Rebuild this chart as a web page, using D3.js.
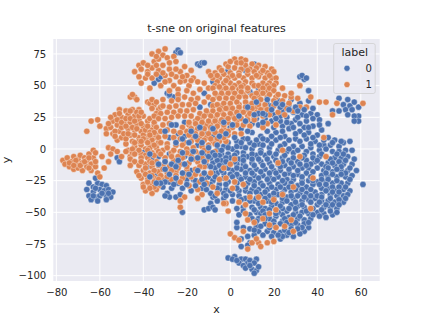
<!DOCTYPE html>
<html><head><meta charset="utf-8">
<script src="https://cdn.jsdelivr.net/npm/d3@7/dist/d3.min.js"></script>
<style>html,body{margin:0;padding:0;background:#fff}svg{display:block}text{font-family:"DejaVu Sans",sans-serif;fill:#262626}</style>
</head><body><div id="c"></div>
<script>
const xTicks=[-80,-60,-40,-20,0,20,40,60];
const yTicks=[-100,-75,-50,-25,0,25,50,75];
const labels=["0","1"];
const colors=["#4c72b0","#dd8452"];
const title="t-sne on original features";
// label 1 points, [x,y]
const pointsOne=[
[-77,-9],[-76,-12],[-75,-7],[-74,-14],[-73,-10],[-72,-6],[-72,-16],[-71,-12],[-70,-8],[-70,-15],[-69,-5],[-68,-11],[-68,-17],[-67,-7],[-66,-14],[-66,-9],[-65,-4],[-64,-12],[-64,-17],[-63,-7],[-62,-14],[-62,-10],[-63,-1],[-62,-3],[-59,-6],[-56,1],[-54,0],[-55,-4],[-52,-2],[-56,-10],[-58,-15],[-61,-19],[-60,-22],[-74,-11],[-71,-9],[-69,-13],[-67,-10],[-65,-15],[-65,-7],[-72,-13],
[-66,14],[-64,22],[-61,23],[-60,18],[-57,16],[-57,12],[-54,22],[-55,17],[-54,12],[-53,27],[-52,7],[-52,19],[-51,31],[-51,14],[-50,25],[-50,9],[-49,21],[-48,30],[-48,4],[-47,16],[-47,27],[-46,11],[-46,21],[-45,31],[-45,6],[-44,26],[-44,15],[-43,20],[-42,23],[-42,9],[-41,3],[-41,14],[-40,18],[-40,26],[-39,0],[-38,10],[-37,5],[-36,15],[-36,-3],[-35,9],[-42,31],[-38,22],[-49,12],[-43,-2],[-47,-1],[-50,-6],[-46,-6],
[-56,20],[-55,25],[-53,14],[-53,10],[-52,23],[-51,28],[-50,17],[-50,21],[-48,24],[-48,18],[-48,8],[-47,12],[-46,30],[-46,24],[-45,17],[-44,22],[-44,11],[-43,29],[-43,16],[-42,26],[-41,20],[-40,11],[-39,15],[-39,7],[-38,18],[-41,29],[-37,13],[-36,7],[-34,11],[-33,5],[-37,1],[-34,1],[-44,2],[-41,-4],[-45,-3],[-39,-5],[-42,6],[-35,19],[-37,24],
[-44,41],[-46,41],[-45,43],[-43,39],[-38,37],[-37,36],[-35,35],[-33,31],[-36,32],[-34,28],[-32,33],[-36,39],[-34,37],
[-30,79],[-36,75],[-33,77],[-31,74],[-29,72],[-26,73],[-25,69],[-35,69],[-33,71],[-42,66],[-40,68],[-44,61],[-41,63],[-38,61],[-36,64],[-33,62],[-31,66],[-28,63],[-41,52],[-39,56],[-42,57],[-37,48],[-36,56],[-32,50],[-30,58],[-28,54],[-26,50],[-25,57],[-23,61],[-21,54],[-20,58],[-19,50],[-17,56],[-15,53],[-24,47],[-23,53],[-27,59],[-21,65],[-18,62],[-25,63],[-34,73],[-38,66],[-34,66],[-31,60],[-38,59],[-28,68],[-30,53],[-34,59],[-22,57],[-18,54],
[2,71],[5,71],[7,70],[-2,67],[3,68],[7,66],[10,67],[13,66],[-5,64],[-1,65],[2,64],[5,63],[9,63],[12,64],[16,65],[19,63],[-10,61],[-7,60],[-3,59],[0,60],[4,60],[8,59],[11,61],[14,60],[17,60],[20,61],[-8,56],[-5,56],[-1,56],[2,56],[6,56],[10,56],[13,57],[16,56],[19,56],[21,56],[-12,52],[-10,48],[-6,53],[-3,52],[0,52],[4,52],[7,53],[10,52],[15,52],[18,52],[21,52],
[0,69],[5,68],[-4,62],[1,58],[4,58],[8,62],[12,58],[15,62],[18,58],[-6,58],[-2,54],[2,50],[6,50],[-9,58],[-4,47],[0,46],[4,47],[8,46],[11,50],[14,46],[17,46],[13,50],[17,50],[20,50],[-7,50],[-6,42],[-2,42],[2,42],[6,43],[10,42],[13,42],[17,41],[21,41],[-8,34],[-4,34],[0,34],[4,35],[8,35],[12,33],[16,33],[-4,29],[0,30],[4,31],[8,31],[12,29],[16,29],[-10,28],[-7,24],[-3,25],[1,26],[4,27],[8,26],[11,25],[-13,24],[-16,22],[-9,20],[-5,21],[-1,21],[3,22],[7,21],[-19,19],[-14,18],[-11,19],[-7,16],[-3,16],[1,17],[-20,14],[-17,14],[-13,14],[-9,15],[-5,12],[-1,11],[-21,5],[-17,9],[-14,10],[-11,9],[-8,6],[-5,6],[-2,6],
[-28,46],[-24,43],[-20,46],[-17,44],[-14,47],[-8,48],[-5,49],[-2,48],[1,48],[5,49],[8,48],[15,48],[18,48],[20,46],
[-31,39],[-27,38],[-24,39],[-21,41],[-18,39],[-15,40],[-10,41],[-7,44],[-4,44],[-1,44],[2,44],[5,45],[12,44],[15,44],[18,43],[22,43],[25,42],[28,41],[31,40],[37,41],[35,33],
[-35,26],[-31,34],[-28,33],[-25,34],[-22,35],[-19,35],[-16,36],[-12,37],[-8,39],[-5,40],[-2,40],[1,40],[4,41],[7,41],[11,40],[14,39],[20,38],[24,38],[27,36],[16,35],[-6,35],[-3,36],[0,36],[3,37],[7,37],[10,36],[13,35],[20,34],[23,33],[26,32],[29,30],[32,33],
[-32,28],[-29,29],[-26,29],[-23,30],[-20,30],[-17,31],[-14,28],[-11,30],[-8,30],[-5,31],[-2,32],[1,32],[4,33],[7,33],[10,32],[14,31],[17,31],[22,29],[25,27],[21,24],[18,27],
[-35,21],[-33,24],[-30,24],[-27,25],[-24,26],[-21,26],[-18,26],[-15,24],[-12,26],[-9,26],[-6,27],[-3,27],[0,28],[3,29],[6,29],[9,28],[12,27],[15,26],[-34,17],[-31,19],[-28,20],[-22,17],[-19,21],[-16,20],[-13,21],[-10,22],[-7,22],[-4,23],[-1,24],[2,24],[5,24],[8,23],[11,23],[17,20],[21,19],
[-35,13],[-32,14],[-29,15],[-26,14],[-23,13],[-18,16],[-15,16],[-12,16],[-9,17],[-6,18],[-3,19],[3,19],[6,19],[9,18],[15,17],
[-40,8],[-37,11],[-33,9],[-30,10],[-26,9],[-23,8],[-19,11],[-16,12],[-13,12],[-10,12],[-7,13],[-4,14],[-1,14],[2,12],[5,12],
[-44,5],[-41,6],[-38,5],[-35,3],[-32,5],[-29,4],[-25,3],[-22,3],[-18,6],[-15,7],[-12,7],[-9,8],[-6,8],[-3,9],
[-48,-2],[-45,0],[-42,-1],[-38,-1],[-35,-5],[-31,-1],[-27,-3],[-23,-2],[-20,0],[-17,1],[-13,2],[-10,3],[-7,4],
[-46,-8],[-44,-10],[-41,-7],[-38,-7],[-34,-10],[-30,-7],[-26,-9],[-22,-7],[-18,-5],[-14,-4],[-10,-2],[-7,-2],
[-46,-13],[-42,-13],[-39,-12],[-36,-14],[-31,-13],[-28,-14],[-23,-12],[-19,-11],[-15,-10],[-11,-9],
[-43,-18],[-40,-17],[-37,-19],[-33,-18],[-29,-19],[-25,-18],[-20,-17],[-16,-16],[-12,-14],
[-41,-23],[-38,-24],[-35,-23],[-31,-23],[-27,-24],[-22,-23],[-18,-22],[-13,-21],[-9,-19],
[-40,-28],[-37,-28],[-33,-29],[-14,-26],[-11,-27],[-39,-33],[-36,-35],[-34,-32],[-19,-29],[-15,-32],[-13,-36],[-15,-39],[-21,-38],[-23,-41],[-23,-46],[-8,-30],[-5,-24],[-3,-15],
[-44,-4],[-41,-10],[-37,-10],[-33,-13],[-30,-10],[-27,-6],[-24,-6],[-39,-15],[-35,-17],[-31,-16],[-27,-17],[-24,-15],[-20,-14],[-42,-21],[-39,-20],[-36,-21],[-32,-21],[-29,-22],[-25,-21],[-38,-26],[-35,-26],[-35,-30],[-37,-31],[-40,-30],[-33,-2],[-29,1],[-26,-1],[-20,-3],[-16,-2],[-12,-1],[-17,-8],[-13,-7],[-32,-4],[-36,-11],[-33,-24],[-16,-20],[-14,-14],[-20,-20],[-23,-26],
[0,-12],[-2,-23],[1,-31],[2,-26],[6,-28],[2,-8],[-2,-43],[-3,-43],[-1,-49],[-6,-35],[4,-42],[7,-44],[9,-38],[13,-38],[15,-42],[7,-51],[8,-56],[11,-58],[15,-55],[18,-60],[21,-62],[25,-61],[29,-65],[28,-56],[21,-48],[20,-40],[29,-30],[38,-23],[37,-47],[0,-67],[2,-70],[6,-65],[8,-79],[10,-74],[13,-74],[14,-77],[12,-71],[17,-74],[20,-73],[4,-72],[18,-51],[24,-36],[24,-1],[22,-11],[32,-6],[44,-6],[43,9],
[41,37],[44,37],[49,36],[47,27],[61,36],[32,50],[28,44],[24,48]
];
// label 0 points, [x,y]
const pointsZero=[
[-65,-27],[-63,-30],[-61,-27],[-59,-28],[-57,-29],[-66,-32],[-63,-34],[-60,-32],[-58,-33],[-56,-32],[-54,-34],[-65,-37],[-62,-38],[-60,-37],[-57,-37],[-55,-38],[-64,-40],[-61,-41],[-57,-40],[-62,-23],[-52,-7],[-62,-31],[-59,-35],[-63,-37],[-56,-35],
[-25,76],[-24,78],[-23,76],[-15,67],[-14,66],[-13,68],[-12,68],[-35,52],[-33,55],[-32,57],[-28,42],[-26,41],[-29,44],[-24,41],
[32,57],[34,55],[33,58],[35,56],[7,62],[-1,62],[11,67],[-8,53],[-12,44],[-9,35],[-14,33],[-21,21],[-25,19],[-21,10],[-28,9],[-24,12],[-28,43],[9,45],[13,48],[11,43],[17,35],[9,30],[0,17],[5,16],[10,20],[13,19],[-36,-8],[-38,-14],[-34,-20],[-28,-4],[-25,-10],[-21,-6],[-28,-26],[-31,-30],[-24,-27],[-29,-35],[-27,-31],[-22,-31],[-25,-38],[-28,-38],[-30,-37],[-22,-50],[-23,-36],[-18,-17],[-19,-2],[-15,3],[-11,-4],[-12,13],[-8,10],[-6,-7],[-51,-10],[-40,-3],[-33,-6],[-17,-24],[-20,-24],[-18,-33],[-16,-25],[-13,-31],[-9,-43],[-12,-48],[-10,-47],[-8,-46],[-8,-38],[-7,-48],
[50,40],[52,35],[54,39],[55,34],[57,37],[53,31],[56,31],[59,33],[50,30],[47,30],[59,26],[57,26],[54,27],[59,22],[57,22],[36,46],[28,39],[32,36],[36,38],[22,38],[19,34],[24,30],[27,35],[18,29],[29,29],[26,25],[33,27],[37,28],[40,27],[30,23],[35,22],[45,20],[28,20],[24,18],[38,18],[42,15],[34,17],
[16,24],[12,24],[19,22],[23,22],[27,16],[32,14],[36,13],[40,11],[45,9],[48,7],[52,5],[55,6],[50,2],[46,3],[43,3],[39,6],[35,8],[30,8],[25,10],[21,13],[17,14],[14,10],[10,13],[6,8],[3,6],[-1,5],[-3,2],[1,0],[5,2],[9,5],[13,4],[17,7],[21,7],[25,4],[29,2],[33,2],[37,1],[41,-1],[47,-2],[50,-2],[53,-1],[56,-1],[54,-6],[51,-7],[48,-7],[45,-11],[41,-6],[38,-4],[35,-2],[29,-3],[26,-2],[22,-1],[18,1],[14,-1],[10,0],[6,-3],[3,-3],[-1,-4],[-4,-4],[-6,-1],
[-8,-11],[-4,-9],[0,-7],[4,-8],[8,-6],[12,-5],[16,-5],[20,-6],[24,-7],[27,-9],[31,-10],[35,-9],[39,-10],[42,-12],[48,-13],[52,-12],[56,-12],[58,-17],[54,-17],[51,-17],[47,-18],[43,-17],[40,-15],[36,-15],[33,-15],[29,-14],[25,-13],[22,-12],[18,-11],[14,-10],[10,-11],[6,-12],[3,-12],[-3,-13],[-7,-15],[-11,-13],
[-10,-22],[-6,-19],[-3,-19],[1,-17],[5,-16],[9,-17],[12,-16],[16,-16],[20,-17],[23,-17],[27,-19],[31,-20],[35,-19],[38,-18],[42,-21],[45,-22],[49,-22],[53,-22],[56,-21],[61,-28],
[54,-27],[51,-27],[47,-27],[44,-26],[40,-26],[36,-25],[33,-25],[29,-24],[26,-24],[22,-22],[18,-22],[15,-21],[11,-21],[7,-22],[4,-22],[-1,-26],[-5,-28],[-8,-25],[-12,-24],
[-9,-35],[-5,-32],[-2,-32],[1,-36],[4,-33],[8,-27],[11,-26],[14,-27],[18,-27],[22,-28],[25,-27],[31,-29],[35,-30],[38,-28],[42,-31],[45,-31],[48,-32],[52,-32],[55,-33],
[52,-37],[49,-37],[46,-36],[42,-36],[39,-34],[35,-35],[32,-35],[28,-34],[25,-32],[21,-32],[17,-32],[13,-32],[10,-32],[7,-33],[4,-37],[1,-41],[-3,-39],[-6,-41],
[48,-42],[45,-41],[42,-41],[39,-39],[36,-40],[33,-41],[29,-39],[26,-38],[22,-36],[18,-37],[14,-36],[11,-41],[7,-39],[3,-47],[6,-46],[10,-46],
[52,-42],[49,-47],[46,-46],[43,-46],[40,-44],[34,-46],[31,-45],[28,-44],[24,-42],[21,-43],[17,-41],[14,-46],[12,-50],[16,-47],[47,-52],[43,-51],[40,-50],[36,-51],[33,-50],[30,-50],[26,-49],[24,-47],[19,-45],[14,-51],[18,-55],[21,-53],[24,-52],[27,-54],[31,-55],[34,-56],[37,-55],[9,-52],[4,-52],
[36,-62],[34,-59],[31,-60],[34,-65],[32,-67],[28,-60],[24,-57],[20,-57],[16,-59],[12,-61],[9,-63],[13,-65],[17,-65],[20,-66],[23,-66],[26,-68],[29,-69],[23,-71],[19,-69],[15,-68],[11,-68],[8,-69],[5,-71],[3,-62],[9,-74],[5,-77],[8,-76],[3,-58],
[-1,-86],[2,-85],[1,-87],[5,-87],[4,-90],[7,-87],[3,-88],[8,-90],[6,-92],[9,-88],[12,-87],[11,-90],[7,-94],[10,-95],[12,-96],[11,-98],[13,-93],[9,-92],
[20,27],[23,26],[31,25],[35,26],[38,24],[41,23],[26,21],[32,20],[20,17],[24,14],[29,17],[36,17],[41,19],[30,12],[34,11],[38,9],[43,7],[47,5],[51,6],[8,8],[12,7],[15,8],[19,10],[23,9],[27,7],[32,6],[37,4],[41,3],[44,0],[-1,1],[3,2],[7,1],[11,3],[15,3],[19,4],[23,2],[27,0],[31,-1],[34,-5],[38,-7],[42,-4],[49,-4],[52,-4],[-5,-5],[-2,-7],[2,-5],[6,-6],[10,-4],[14,-3],[18,-3],[21,-4],[25,-5],[29,-7],[33,-7],[37,-12],[40,-9],[46,-8],[50,-10],[53,-9],[57,-8],[-9,-7],[-6,-9],[-2,-10],[2,-10],[6,-9],[10,-8],[13,-8],[17,-8],[21,-9],[24,-10],[28,-11],[32,-12],[44,-14],[47,-11],[51,-14],[55,-15],[-9,-14],[-5,-13],[-1,-15],[3,-15],[7,-14],[11,-13],[15,-13],[19,-14],[23,-14],[27,-16],[31,-17],[35,-13],[45,-15],[49,-16],[53,-19],[-8,-19],[-4,-17],[0,-20],[3,-20],[7,-19],[10,-19],[14,-18],[18,-19],[21,-19],[25,-20],[29,-21],[33,-22],[37,-22],[44,-19],[47,-20],[51,-20],[55,-24],
[-7,-22],[-3,-23],[1,-22],[5,-24],[9,-24],[13,-23],[17,-24],[20,-24],[24,-25],[28,-27],[33,-27],[38,-25],[42,-24],[45,-24],[49,-25],[53,-30],[-9,-28],[-6,-31],[-2,-28],[3,-27],[11,-29],[15,-29],[19,-30],[23,-30],[27,-30],[33,-32],[37,-32],[41,-28],[44,-28],[47,-30],[50,-30],[-11,-32],[-7,-37],[-3,-35],[0,-33],[3,-31],[7,-30],[9,-35],[12,-34],[16,-34],[20,-35],[24,-35],[30,-32],[37,-37],[40,-37],[44,-33],[47,-34],[50,-34],[54,-36],[-2,-37],[5,-40],[9,-41],[12,-39],[16,-39],[20,-39],[24,-39],[28,-37],[31,-37],[34,-38],[42,-38],[46,-39],[50,-40],[53,-39],[13,-43],[19,-42],[23,-45],[26,-41],[30,-42],[33,-44],[37,-42],[41,-42],[44,-44],[47,-44],[50,-44],[11,-48],[15,-49],[18,-48],[22,-50],[27,-47],[30,-47],[35,-49],[38,-47],[42,-48],[46,-49],[49,-50],[6,-49],[10,-55],[13,-55],[16,-52],[21,-51],[25,-55],[29,-52],[32,-53],[38,-52],[41,-53],[44,-54],[12,-57],[16,-55],[20,-60],[23,-59],[26,-58],[30,-58],[33,-62],[36,-58],[11,-64],[14,-61],[18,-62],[25,-64],[28,-63],[31,-63],[24,-69],[22,-68],[27,-66],[6,-62],
[16,27],[13,28],[19,31],[27,31],[30,33],[34,31],[38,32],[23,33],[31,30],[21,24],[15,21],[8,14],[2,9],[5,5],[-4,-1],[-8,-3],
[-30,-10],[-27,-12],[-24,-9],[-21,-12],[-18,-8],[-15,-7],[-12,-10],[-28,-20],[-25,-23],[-22,-19],[-19,-20],[-15,-17],[-12,-19],[-13,-24],[-30,-26],[-32,-27],[-26,-28],[-20,-28],[-16,-29],[-12,-28],[-34,-27],[-22,-3],[-17,-2],[-13,-3],[-10,-6],[-7,-5],[-10,1],[-13,5],[-6,3],[-16,10],[-19,5],[-22,8],[-25,5],[-30,14],[-27,19],[-18,14],[-14,17],[-5,10],[-2,12],[-8,16],[-3,21],[1,19],[7,22],[4,26],[11,27],[15,28],[8,33],[12,37],[17,39],[21,36],[24,35],[-33,-12],[-37,-4],[-30,-16],[-25,-14],[-37,-22]
];
const W=423,H=317,M={l:53.3,r:379.7,t:39,b:281};
const x=d3.scaleLinear().domain([-81.4,68.7]).range([M.l,M.r]);
const y=d3.scaleLinear().domain([-104.2,86.8]).range([M.b,M.t]);
const svg=d3.select("#c").append("svg").attr("width",W).attr("height",H);
svg.append("rect").attr("x",M.l).attr("y",M.t).attr("width",M.r-M.l).attr("height",M.b-M.t).attr("fill","#eaeaf2");
const g=svg.append("g");
g.selectAll(".vg").data(xTicks).join("line").attr("x1",d=>x(d)).attr("x2",d=>x(d)).attr("y1",M.t).attr("y2",M.b).attr("stroke","#fff").attr("stroke-width",1);
g.selectAll(".hg").data(yTicks).join("line").attr("y1",d=>y(d)).attr("y2",d=>y(d)).attr("x1",M.l).attr("x2",M.r).attr("stroke","#fff").attr("stroke-width",1);
const seq=[];
pointsZero.forEach((p,i)=>seq.push({p,k:0,o:i/pointsZero.length}));
pointsOne.forEach((p,i)=>seq.push({p,k:1,o:i/pointsOne.length}));
seq.sort((a,b)=>a.o-b.o);
svg.append("g").selectAll("circle").data(seq).join("circle")
 .attr("cx",d=>x(d.p[0])).attr("cy",d=>y(d.p[1])).attr("r",3.1)
 .attr("fill",d=>colors[d.k]).attr("stroke","#fff").attr("stroke-width",0.5).attr("stroke-opacity",0.7);
const ax=svg.append("g").attr("transform",`translate(0,${M.b})`).call(d3.axisBottom(x).tickValues(xTicks).tickSize(0).tickPadding(8).tickFormat(d=>String(d).replace("-","\u2212")));
ax.select(".domain").remove();
ax.selectAll("text").attr("font-size",10.1).attr("dy","0.71em");
const ay=svg.append("g").attr("transform",`translate(${M.l},0)`).call(d3.axisLeft(y).tickValues(yTicks).tickSize(0).tickPadding(7).tickFormat(d=>String(d).replace("-","\u2212")));
ay.select(".domain").remove();
ay.selectAll("text").attr("font-size",10.1);
svg.append("text").attr("x",(M.l+M.r)/2).attr("y",32).attr("text-anchor","middle").attr("font-size",11).text(title);
svg.append("text").attr("x",(M.l+M.r)/2).attr("y",313).attr("text-anchor","middle").attr("font-size",11).text("x");
svg.append("text").attr("transform","translate(10,160) rotate(-90)").attr("text-anchor","middle").attr("font-size",11).text("y");
const lg=svg.append("g");
lg.append("rect").attr("x",333.7).attr("y",43.5).attr("width",41.5).attr("height",50).attr("rx",2).attr("fill","#eaeaf2").attr("fill-opacity",0.8).attr("stroke","#ccc").attr("stroke-width",0.7);
lg.append("text").attr("x",354.7).attr("y",56).attr("text-anchor","middle").attr("font-size",11).text("label");
labels.forEach((l,i)=>{
 const yy=68+i*16.3;
 lg.append("circle").attr("cx",347).attr("cy",yy+0.3).attr("r",3.1).attr("fill",colors[i]).attr("stroke","#fff").attr("stroke-width",0.5);
 lg.append("text").attr("x",365.5).attr("y",yy+3.7).attr("font-size",10.1).text(l);
});
</script></body></html>
